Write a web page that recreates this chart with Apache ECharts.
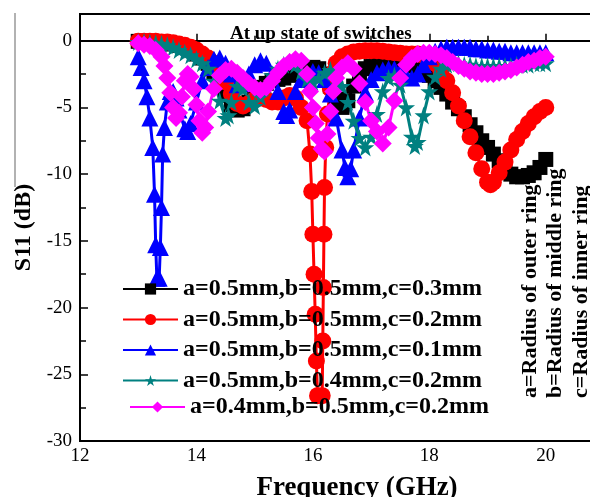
<!DOCTYPE html>
<html>
<head>
<meta charset="utf-8">
<script src="https://cdn.jsdelivr.net/npm/echarts@6/dist/echarts.min.js"></script>
<style>
  html, body { margin: 0; padding: 0; background: #fff; }
  #chart { width: 590px; height: 497px; }
</style>
</head>
<body>
<div id="chart"></div>
<script>
// S11 (dB) vs frequency (GHz)
const names = [
  "a=0.5mm,b=0.5mm,c=0.3mm",
  "a=0.5mm,b=0.5mm,c=0.2mm",
  "a=0.5mm,b=0.5mm,c=0.1mm",
  "a=0.5mm,b=0.4mm,c=0.2mm",
  "a=0.4mm,b=0.5mm,c=0.2mm",
];

const sideNotes = [
  "a=Radius of outer ring",
  "b=Radius of middle ring",
  "c=Radius of inner ring",
];

const blackData = [
  [13.0,-0.05],[13.1,-0.05],[13.2,-0.05],[13.3,-0.1],[13.4,-0.1],[13.5,-0.15],[13.6,-0.25],[13.7,-0.35],
  [13.8,-0.5],[13.9,-0.7],[14.0,-1.0],[14.1,-1.3],[14.2,-1.7],[14.3,-2.4],[14.4,-3.2],[14.5,-4.1],
  [14.6,-4.8],[14.7,-5.2],[14.8,-5.1],[14.9,-4.6],[15.0,-4.0],[15.1,-3.5],[15.2,-3.2],[15.3,-3.0],
  [15.4,-2.9],[15.5,-2.8],[15.6,-2.6],[15.7,-2.4],[15.8,-2.2],[15.9,-2.1],[16.0,-2.0],[16.1,-2.1],
  [16.2,-2.5],[16.3,-3.4],[16.4,-4.4],[16.5,-5.0],[16.6,-4.5],[16.7,-3.4],[16.8,-2.6],[16.9,-2.1],
  [17.0,-1.9],[17.1,-1.8],[17.2,-1.7],[17.3,-1.6],[17.4,-1.6],[17.5,-1.7],[17.6,-1.8],[17.7,-1.9],
  [17.8,-2.0],[17.9,-2.3],[18.0,-2.6],[18.1,-3.0],[18.2,-3.5],[18.3,-4.0],[18.4,-4.6],[18.5,-5.1],
  [18.6,-5.7],[18.7,-6.3],[18.8,-6.9],[18.9,-7.5],[19.0,-8.0],[19.1,-8.5],[19.2,-9.0],[19.3,-9.6],
  [19.4,-10.0],[19.5,-10.2],[19.6,-10.2],[19.7,-10.1],[19.8,-9.9],[19.9,-9.5],[20.0,-8.9],
];

const redData = [
  [13.0,-0.05],[13.1,-0.05],[13.2,-0.05],[13.3,-0.05],[13.4,-0.1],[13.5,-0.1],[13.6,-0.15],[13.7,-0.25],
  [13.8,-0.35],[13.9,-0.5],[14.0,-0.7],[14.1,-1.0],[14.2,-1.3],[14.3,-1.7],[14.4,-2.3],[14.5,-3.1],
  [14.6,-4.0],[14.7,-4.7],[14.8,-4.9],[14.9,-4.7],[15.0,-4.4],[15.1,-4.3],[15.2,-4.4],[15.3,-4.6],
  [15.4,-4.6],[15.5,-4.3],[15.6,-4.1],[15.7,-4.3],[15.8,-5.0],[15.9,-6.0],[15.95,-8.5],[15.98,-11.3],
  [16.0,-14.5],[16.02,-17.5],[16.04,-20.5],[16.06,-24.0],[16.08,-26.6],[16.16,-26.6],[16.17,-22.5],
  [16.18,-18.5],[16.19,-14.5],[16.2,-11.0],[16.22,-8.0],[16.25,-5.5],[16.3,-3.6],[16.35,-2.4],
  [16.4,-1.7],[16.5,-1.2],[16.6,-1.0],[16.7,-0.85],[16.8,-0.8],[16.9,-0.75],[17.0,-0.75],[17.1,-0.75],
  [17.2,-0.8],[17.3,-0.85],[17.4,-0.9],[17.5,-0.95],[17.6,-1.0],[17.7,-1.0],[17.8,-1.0],[17.9,-1.1],
  [18.0,-1.3],[18.1,-1.7],[18.2,-2.3],[18.3,-3.0],[18.4,-3.9],[18.5,-4.9],[18.6,-6.0],[18.7,-7.2],
  [18.8,-8.4],[18.9,-9.6],[19.0,-10.6],[19.05,-10.8],[19.1,-10.6],[19.2,-9.9],[19.3,-9.1],[19.4,-8.2],
  [19.5,-7.4],[19.6,-6.8],[19.7,-6.2],[19.8,-5.7],[19.9,-5.3],[20.0,-5.0],
];

const blueData = [
  [13.0,-1.2],[13.05,-2.0],[13.1,-3.0],[13.15,-4.2],[13.2,-5.8],[13.25,-8.0],[13.28,-11.5],[13.3,-15.3],
  [13.32,-17.8],[13.36,-17.8],[13.38,-15.5],[13.4,-12.5],[13.42,-8.5],[13.45,-6.5],[13.5,-4.6],
  [13.55,-3.8],[13.6,-3.8],[13.65,-4.3],[13.7,-5.2],[13.8,-6.6],[13.85,-6.8],[13.9,-6.2],[14.0,-4.6],
  [14.1,-3.0],[14.2,-2.0],[14.3,-1.4],[14.4,-1.3],[14.5,-1.7],[14.6,-2.5],[14.7,-3.3],[14.8,-3.2],
  [14.9,-2.5],[15.0,-1.8],[15.1,-1.5],[15.2,-1.7],[15.3,-2.5],[15.4,-3.8],[15.5,-5.3],[15.55,-5.6],
  [15.6,-5.2],[15.7,-3.8],[15.8,-2.9],[15.9,-2.5],[16.0,-2.3],[16.1,-2.4],[16.2,-2.9],[16.3,-4.0],
  [16.4,-5.8],[16.5,-8.2],[16.55,-9.5],[16.6,-10.2],[16.65,-9.6],[16.7,-8.2],[16.8,-5.8],[16.9,-3.9],
  [17.0,-2.9],[17.1,-2.4],[17.2,-2.2],[17.3,-2.1],[17.4,-2.1],[17.5,-2.3],[17.6,-2.6],[17.7,-2.8],
  [17.8,-2.5],[17.9,-1.8],[18.0,-1.2],[18.1,-0.8],[18.2,-0.6],[18.3,-0.5],[18.4,-0.5],[18.5,-0.5],
  [18.6,-0.5],[18.7,-0.5],[18.8,-0.6],[18.9,-0.6],[19.0,-0.7],[19.1,-0.7],[19.2,-0.8],[19.3,-0.8],
  [19.4,-0.9],[19.5,-0.9],[19.6,-0.9],[19.7,-0.9],[19.8,-0.9],[19.9,-0.9],[20.0,-0.9],
];

const tealData = [
  [13.0,-0.1],[13.1,-0.1],[13.2,-0.15],[13.3,-0.2],[13.4,-0.25],[13.5,-0.35],[13.6,-0.5],[13.7,-0.7],
  [13.8,-0.9],[13.9,-1.1],[14.0,-1.4],[14.1,-1.7],[14.2,-2.1],[14.3,-3.0],[14.4,-4.5],[14.5,-5.8],
  [14.55,-5.6],[14.6,-4.6],[14.7,-3.4],[14.8,-3.6],[14.9,-4.6],[15.0,-4.9],[15.1,-4.2],[15.2,-3.3],
  [15.3,-2.6],[15.4,-2.1],[15.5,-1.8],[15.6,-1.6],[15.7,-1.8],[15.8,-2.3],[15.9,-2.9],[16.0,-3.1],
  [16.1,-2.8],[16.2,-2.4],[16.3,-2.2],[16.4,-2.6],[16.5,-3.4],[16.6,-4.6],[16.7,-6.0],[16.8,-7.3],
  [16.9,-8.0],[17.0,-7.2],[17.1,-5.5],[17.2,-3.8],[17.3,-2.8],[17.4,-2.6],[17.5,-3.3],[17.6,-5.0],
  [17.7,-7.2],[17.75,-7.9],[17.8,-7.6],[17.9,-5.6],[18.0,-3.8],[18.1,-2.7],[18.2,-2.1],[18.3,-1.8],
  [18.4,-1.7],[18.5,-1.7],[18.6,-1.8],[18.7,-1.8],[18.8,-1.9],[18.9,-1.9],[19.0,-1.9],[19.1,-1.9],
  [19.2,-1.9],[19.3,-1.9],[19.4,-1.9],[19.5,-1.8],[19.6,-1.8],[19.7,-1.8],[19.8,-1.7],[19.9,-1.7],
  [20.0,-1.7],
];

const magentaData = [
  [13.0,-0.2],[13.1,-0.3],[13.2,-0.4],[13.3,-0.7],[13.4,-1.2],[13.45,-1.9],[13.5,-2.8],[13.55,-3.9],
  [13.6,-5.0],[13.65,-5.8],[13.7,-5.4],[13.75,-4.2],[13.8,-3.0],[13.85,-2.5],[13.9,-2.7],[13.95,-3.6],
  [14.0,-4.8],[14.05,-6.0],[14.1,-6.9],[14.15,-6.5],[14.2,-5.3],[14.3,-3.6],[14.4,-2.6],[14.5,-2.2],
  [14.6,-2.1],[14.7,-2.4],[14.8,-2.8],[14.9,-3.2],[15.0,-3.5],[15.1,-3.7],[15.2,-3.5],[15.3,-3.0],
  [15.4,-2.4],[15.5,-1.9],[15.6,-1.6],[15.7,-1.4],[15.8,-1.5],[15.9,-2.5],[15.95,-3.8],[16.0,-5.0],
  [16.05,-6.2],[16.1,-7.3],[16.15,-8.1],[16.2,-8.3],[16.25,-7.0],[16.3,-5.3],[16.35,-3.8],[16.4,-2.8],
  [16.5,-2.0],[16.6,-1.7],[16.7,-2.1],[16.8,-3.2],[16.9,-4.6],[17.0,-6.0],[17.1,-6.8],[17.2,-7.7],
  [17.3,-6.5],[17.4,-4.5],[17.5,-2.8],[17.6,-1.8],[17.7,-1.3],[17.8,-1.0],[17.9,-0.9],[18.0,-0.9],
  [18.1,-1.0],[18.2,-1.1],[18.3,-1.3],[18.4,-1.6],[18.5,-1.9],[18.6,-2.1],[18.7,-2.3],[18.8,-2.4],
  [18.9,-2.5],[19.0,-2.5],[19.1,-2.5],[19.2,-2.4],[19.3,-2.3],[19.4,-2.2],[19.5,-2.0],[19.6,-1.8],
  [19.7,-1.6],[19.8,-1.5],[19.9,-1.3],[20.0,-1.2],
];

const xTicks = { min: 12, max: 21, interval: 2 };
const yTicks = { min: -30, max: 2, interval: 5 };

const FONT = "Liberation Serif";
const starPath = "path://M50,0 L61,35 L98,35 L68,57 L79,91 L50,70 L21,91 L32,57 L2,35 L39,35 Z";

const mk = (name, data, color, symbol, size) => ({
  name,
  type: "line",
  data,
  symbol,
  symbolSize: size,
  showSymbol: true,
  lineStyle: { color, width: 3 },
  itemStyle: { color },
  animation: false,
});

const chart = echarts.init(document.getElementById("chart"));

chart.setOption({
  animation: false,
  title: {
    text: "At up state of switches",
    left: 225,
    top: 20,
    textStyle: { fontFamily: FONT, fontWeight: "bold", fontSize: 19, color: "#000" },
  },
  legend: [
    {
      data: names.slice(0, 4),
      orient: "vertical",
      left: 117,
      top: 272,
      itemWidth: 55,
      itemHeight: 14,
      itemGap: 6.5,
      textStyle: { fontFamily: FONT, fontWeight: "bold", fontSize: 24, color: "#000", lineHeight: 22 },
    },
    {
      data: names.slice(4),
      orient: "vertical",
      left: 124,
      top: 390,
      itemWidth: 55,
      itemHeight: 14,
      textStyle: { fontFamily: FONT, fontWeight: "bold", fontSize: 24, color: "#000", lineHeight: 22 },
    },
  ],
  grid: {
    left: 80,
    right: -14,
    top: 14,
    bottom: 56,
    outerBoundsMode: "none",
    show: true,
    borderColor: "#000",
    borderWidth: 2,
  },
  xAxis: {
    type: "value",
    min: xTicks.min,
    max: xTicks.max,
    interval: xTicks.interval,
    name: "Frequency (GHz)",
    nameLocation: "middle",
    nameGap: 34,
    nameTextStyle: { fontFamily: FONT, fontWeight: "bold", fontSize: 27, color: "#000", padding: [0, 0, 0, 30] },
    axisLine: { lineStyle: { color: "#000", width: 2 } },
    axisTick: { inside: true, length: 7, lineStyle: { color: "#000", width: 1.5 } },
    minorTick: { show: true, splitNumber: 2, length: 5, lineStyle: { color: "#000", width: 1.5 } },
    axisLabel: { fontFamily: FONT, fontSize: 19, color: "#000", margin: 6, showMaxLabel: false },
    splitLine: { show: false },
  },
  yAxis: {
    type: "value",
    min: yTicks.min,
    max: yTicks.max,
    interval: yTicks.interval,
    name: "S11 (dB)",
    nameLocation: "middle",
    nameGap: 43,
    nameTextStyle: { fontFamily: FONT, fontWeight: "bold", fontSize: 24, color: "#000" },
    axisLine: { lineStyle: { color: "#000", width: 2 } },
    axisTick: { inside: true, length: 8, lineStyle: { color: "#000", width: 1.5 } },
    minorTick: { show: true, splitNumber: 2, length: 6, lineStyle: { color: "#000", width: 1.5 } },
    axisLabel: { fontFamily: FONT, fontSize: 19, color: "#000", margin: 8, showMaxLabel: false },
    splitLine: { show: false },
  },
  graphic: [
    {
      type: "line",
      shape: { x1: 15, y1: 13, x2: 15, y2: 187 },
      style: { stroke: "#999", lineWidth: 1.5 },
    },
    ...sideNotes.map((t, i) => ({
      type: "text",
      x: 530 + i * 25.5,
      y: 398,
      rotation: Math.PI / 2,
      style: {
        text: t,
        fontFamily: FONT,
        fontWeight: "bold",
        fontSize: 22,
        fill: "#000",
        textAlign: "left",
        textVerticalAlign: "middle",
      },
    })),
  ],
  series: [
    mk(names[0], blackData, "#000000", "rect", 15),
    mk(names[1], redData, "#ff0000", "circle", 17),
    mk(names[2], blueData, "#0000ff", "triangle", 17),
    mk(names[3], tealData, "#008080", starPath, 18),
    mk(names[4], magentaData, "#ff00ff", "diamond", 18),
  ],
});
</script>
</body>
</html>
